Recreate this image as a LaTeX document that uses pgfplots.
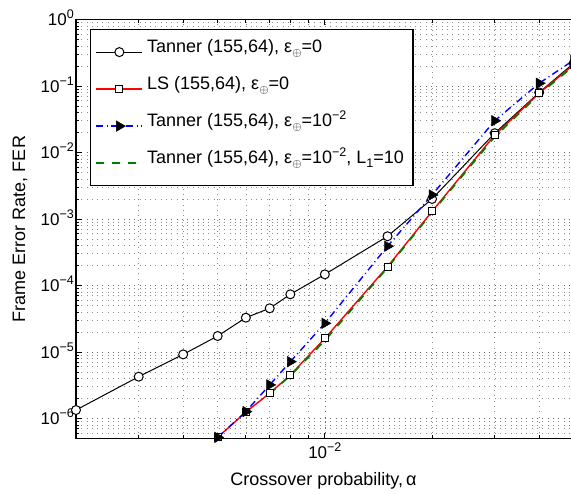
\documentclass[border=0pt]{standalone}
\usepackage{pgfplots}
\pgfplotsset{compat=1.18}
\usepackage{pgfplotstable}
\usepackage{fontspec}
\setmainfont{Liberation Sans}

\definecolor{mgreen}{rgb}{0,0.5,0}
\definecolor{lsred}{rgb}{1,0,0}

% subscript circled plus and raised exponents in the text font
\newcommand{\xsub}{\raisebox{-4.5pt}{\fontsize{13}{13}\selectfont$\oplus$}}
\newcommand{\xsup}[1]{\raisebox{7pt}{\fontsize{12.5}{12.5}\selectfont #1}}
\newcommand{\nsub}[1]{\raisebox{-4.5pt}{\fontsize{12.5}{12.5}\selectfont #1}}

% Frame error rate versus crossover probability
\pgfplotstableread{
x y
0.002 1.34e-6
0.003 4.25e-6
0.004 9.2e-6
0.005 1.74e-5
0.006 3.28e-5
0.007 4.54e-5
0.008 7.37e-5
0.010 1.47e-4
0.015 5.5e-4
0.020 2.0e-3
0.030 1.95e-2
0.040 8.0e-2
0.050 0.22
}\tannerzero

\pgfplotstableread{
x y
0.005 5.2e-7
0.006 1.25e-6
0.007 2.4e-6
0.008 4.5e-6
0.010 1.6e-5
0.015 1.92e-4
0.020 1.3e-3
0.030 1.83e-2
0.040 7.8e-2
0.050 0.21
}\lszero

\pgfplotstableread{
x y
0.005 5.2e-7
0.006 1.27e-6
0.007 3.2e-6
0.008 7.15e-6
0.010 2.7e-5
0.015 3.9e-4
0.020 2.3e-3
0.030 3.0e-2
0.040 0.11
0.050 0.245
}\tannereps

\pgfplotstableread{
x y
0.007 2.35e-6
0.008 4.4e-6
0.010 1.48e-5
0.015 1.85e-4
0.020 1.25e-3
0.030 1.72e-2
0.040 7.5e-2
0.050 0.20
}\tannerepsL

\begin{document}
\begin{tikzpicture}
\useasboundingbox (-76pt,-55.5pt) rectangle (495pt,438.5pt);
\clip (-76pt,-55.5pt) rectangle (495pt,438.5pt);
\begin{axis}[
  at={(0pt,0pt)}, anchor=south west,
  scale only axis, width=523.3pt, height=419pt,
  xmode=log, ymode=log,
  xmin=0.002, xmax=0.059, ymin=5e-7, ymax=1,
  xtick={0.01}, xticklabels={10\xsup{−2}},
  minor xtick={0.003,0.004,0.005,0.006,0.007,0.008,0.009,0.02,0.03,0.04,0.05},
  ytick={1e-6,1e-5,1e-4,1e-3,1e-2,1e-1,1},
  yticklabels={10\xsup{−6},10\xsup{−5},10\xsup{−4},10\xsup{−3},10\xsup{−2},10\xsup{−1},10\xsup{0}},
  minor ytick={6e-7,7e-7,8e-7,9e-7,
    2e-6,3e-6,4e-6,5e-6,6e-6,7e-6,8e-6,9e-6,
    2e-5,3e-5,4e-5,5e-5,6e-5,7e-5,8e-5,9e-5,
    2e-4,3e-4,4e-4,5e-4,6e-4,7e-4,8e-4,9e-4,
    2e-3,3e-3,4e-3,5e-3,6e-3,7e-3,8e-3,9e-3,
    2e-2,3e-2,4e-2,5e-2,6e-2,7e-2,8e-2,9e-2,
    2e-1,3e-1,4e-1,5e-1,6e-1,7e-1,8e-1,9e-1},
  grid=both,
  major grid style={black!60, line width=0.7pt, dash pattern=on 0.7pt off 4.6pt},
  minor grid style={black!45, line width=0.7pt, dash pattern=on 0.7pt off 4.6pt},
  tick align=inside,
  major tick length=6pt, minor tick length=3.5pt,
  every tick/.style={black, line width=0.8pt},
  axis line style={black, line width=1.2pt},
  tick label style={font=\fontsize{17}{20}\selectfont},
  yticklabel style={anchor=base east, yshift=-6.3pt, inner xsep=2pt},
  xticklabel style={inner ysep=4pt},
  label style={font=\fontsize{18}{21}\selectfont},
  xlabel={Crossover probability,\,α},
  ylabel={Frame Error Rate, FER},
  xlabel style={at={(axis description cs:0.473,-0.100)}, anchor=center},
  ylabel style={at={(axis description cs:-0.107,0.5)}, anchor=center},
  legend cell align=left,
  legend image code/.code={%
    \draw[mark repeat=2,mark phase=2,#1] plot coordinates {(0pt,0pt) (23pt,0pt) (46pt,0pt)};},
  legend style={at={(axis description cs:0.02675,0.9773)}, anchor=north west,
    line width=1.2pt, fill=white,
    font=\fontsize{18}{21}\selectfont,
    inner xsep=5pt, inner ysep=4pt, row sep=0pt,
    nodes={text height=18.7pt, text depth=18.3pt, inner xsep=4pt, inner ysep=0pt}},
]
\addplot[color=black, draw=black, line width=1pt, mark=*, mark size=4.5pt,
  mark options={solid, fill=white, draw=black, line width=1pt}]
  table[x=x, y=y] {\tannerzero};
\addlegendentry{Tanner (155,64), ε\xsub=0}

\addplot[color=lsred, draw=lsred, line width=1.4pt, mark=square*, mark size=3.5pt,
  mark options={solid, fill=white, draw=black, line width=1pt}]
  table[x=x, y=y] {\lszero};
\addlegendentry{LS (155,64), ε\xsub=0}

\addplot[color=blue, draw=blue, line width=1.4pt, dash pattern=on 7pt off 3.5pt on 1pt off 3.5pt,
  mark=triangle*, mark size=6pt,
  mark options={solid, fill=black, draw=black, rotate=-90, line width=0.5pt}]
  table[x=x, y=y] {\tannereps};
\addlegendentry{Tanner (155,64), ε\xsub=10\xsup{−2}}

\addplot[color=mgreen, draw=mgreen, line width=1.6pt, dash pattern=on 8pt off 8pt]
  table[x=x, y=y] {\tannerepsL};
\addlegendentry{Tanner (155,64), ε\xsub=10\xsup{−2}, L\nsub{1}=10}
\end{axis}
\end{tikzpicture}
\end{document}
